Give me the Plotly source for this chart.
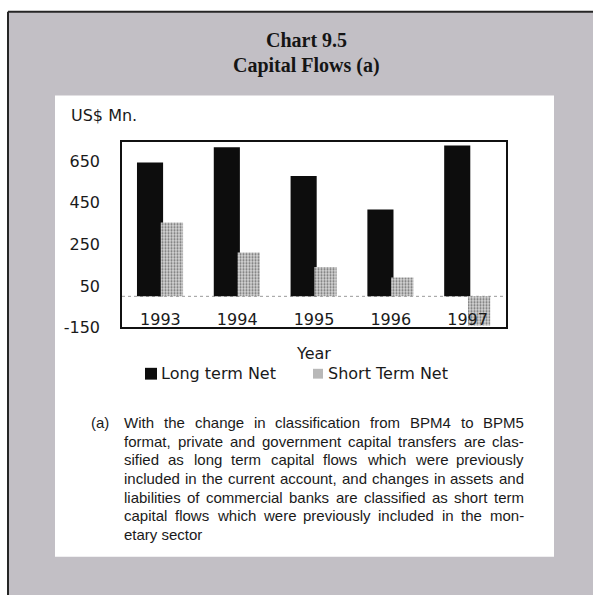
import plotly.graph_objects as go

# ---- data -------------------------------------------------------------
years = ["1993", "1994", "1995", "1996", "1997"]
long_term_net = [645, 718, 580, 418, 726]
short_term_net = [356, 211, 141, 91, -140]
y_ticks = [-150, 50, 250, 450, 650]
y_tick_labels = ["-150", "50", "250", "450", "650"]

title_lines = ["Chart 9.5", "Capital Flows (a)"]
unit_label = "US$ Mn."
x_title = "Year"
legend_labels = ["Long term Net", "Short Term Net"]
note_marker = "(a)"
note_lines = [
    "With the change in classification from BPM4 to BPM5",
    "format, private and government capital transfers are clas-",
    "sified as long term capital flows which were previously",
    "included in the current account, and changes in assets and",
    "liabilities of commercial banks are classified as short term",
    "capital flows which were previously included in the mon-",
    "etary sector",
]

# ---- page geometry (pixels) -------------------------------------------
W, H = 593, 605


def px(x):
    return x / W


def py(y):
    return 1 - y / H


PLOT_L, PLOT_R, PLOT_T, PLOT_B = 122, 506, 144, 333

SANS = "DejaVu Sans"
NOTE_FONT = "Liberation Sans, Arial, sans-serif"
SERIF = "Liberation Serif, Times New Roman, serif"

fig = go.Figure()

fig.add_trace(go.Bar(
    x=years, y=long_term_net, name=legend_labels[0],
    marker=dict(color="#0d0d0d", line=dict(width=0)),
    offset=-0.305, width=0.34, showlegend=False,
))
fig.add_trace(go.Bar(
    x=years, y=short_term_net, name=legend_labels[1],
    marker=dict(
        color="#b4b4b4", line=dict(width=0),
        pattern=dict(shape=".", fgcolor="#707070", bgcolor="#d6d6d6",
                     size=3, solidity=0.4, fillmode="replace"),
    ),
    offset=0.005, width=0.29, showlegend=False,
))

shapes = [
    # textured grey frame and its dark top/left edge
    dict(type="rect", xref="paper", yref="paper", x0=px(8), x1=1, y0=0, y1=py(12),
         fillcolor="#c2bfc5", line=dict(width=0), layer="below"),
    dict(type="line", xref="paper", yref="paper", x0=px(8), x1=1, y0=py(12), y1=py(12),
         line=dict(color="#262626", width=2)),
    dict(type="line", xref="paper", yref="paper", x0=px(8), x1=px(8), y0=0, y1=py(12),
         line=dict(color="#262626", width=2)),
    # white inner panel
    dict(type="rect", xref="paper", yref="paper", x0=px(55), x1=px(554), y0=py(566), y1=py(97),
         fillcolor="white", line=dict(width=0), layer="below"),
    # dotted baseline at zero
    dict(type="line", xref="x domain", yref="y", x0=0, x1=1, y0=0, y1=0,
         line=dict(color="#9a9a9a", width=1, dash="dot"), layer="below"),
    # legend swatches
    dict(type="rect", xref="paper", yref="paper", x0=px(145), x1=px(157), y0=py(386), y1=py(374),
         fillcolor="#0d0d0d", line=dict(width=0)),
    dict(type="rect", xref="paper", yref="paper", x0=px(313), x1=px(323), y0=py(385), y1=py(375),
         fillcolor="#b8b8b8", line=dict(width=0)),
]

annotations = [
    dict(text=f"<b>{title_lines[0]}</b>", x=px(306), y=py(41), xref="paper", yref="paper",
         showarrow=False, xanchor="center", yanchor="middle",
         font=dict(family=SERIF, size=20, color="#151515")),
    dict(text=f"<b>{title_lines[1]}</b>", x=px(306), y=py(67), xref="paper", yref="paper",
         showarrow=False, xanchor="center", yanchor="middle",
         font=dict(family=SERIF, size=20, color="#151515")),
    dict(text=unit_label, x=px(69), y=py(117), xref="paper", yref="paper",
         showarrow=False, xanchor="left", yanchor="middle",
         font=dict(family=SANS, size=16, color="#1a1a1a")),
    dict(text=legend_labels[0], x=px(159), y=py(380), xref="paper", yref="paper",
         showarrow=False, xanchor="left", yanchor="middle",
         font=dict(family=SANS, size=16, color="#1a1a1a")),
    dict(text=legend_labels[1], x=px(326), y=py(380), xref="paper", yref="paper",
         showarrow=False, xanchor="left", yanchor="middle",
         font=dict(family=SANS, size=16, color="#1a1a1a")),
    dict(text=note_marker, x=px(89), y=py(430), xref="paper", yref="paper",
         showarrow=False, xanchor="left", yanchor="middle",
         font=dict(family=NOTE_FONT, size=15, color="#1a1a1a")),
]

# Arial / Liberation Sans advance widths (units per 1000 em) for justified note text
ADV = {
    " ": 278, ",": 278, ".": 278, "-": 333, "(": 333, ")": 333,
    "a": 556, "b": 556, "c": 500, "d": 556, "e": 556, "f": 278, "g": 556, "h": 556,
    "i": 222, "j": 222, "k": 500, "l": 222, "m": 833, "n": 556, "o": 556, "p": 556,
    "q": 556, "r": 333, "s": 500, "t": 278, "u": 556, "v": 500, "w": 722, "x": 500,
    "y": 500, "z": 500, "B": 667, "M": 833, "P": 667, "W": 944, "4": 556, "5": 556,
}
NOTE_SIZE = 15
NOTE_L, NOTE_R = 122, 522
NOTE_TOP, NOTE_STEP = 430, 18.85


def word_width(word):
    return sum(ADV.get(ch, 556) for ch in word) * NOTE_SIZE / 1000


for i, line in enumerate(note_lines):
    yy = py(NOTE_TOP + i * NOTE_STEP)
    words = line.split()
    if i == len(note_lines) - 1 or len(words) < 2:
        annotations.append(dict(
            text=line, x=px(NOTE_L), y=yy, xref="paper", yref="paper",
            showarrow=False, xanchor="left", yanchor="middle",
            font=dict(family=NOTE_FONT, size=NOTE_SIZE, color="#1a1a1a")))
        continue
    widths = [word_width(w) for w in words]
    gap = (NOTE_R - NOTE_L - sum(widths)) / (len(words) - 1)
    xpos = NOTE_L
    for w, ww in zip(words, widths):
        annotations.append(dict(
            text=w, x=px(xpos), y=yy, xref="paper", yref="paper",
            showarrow=False, xanchor="left", yanchor="middle",
            font=dict(family=NOTE_FONT, size=NOTE_SIZE, color="#1a1a1a")))
        xpos += ww + gap

fig.update_layout(
    width=W, height=H, autosize=False,
    margin=dict(l=0, r=0, t=0, b=0, pad=0),
    paper_bgcolor="white", plot_bgcolor="white",
    barmode="overlay",
    showlegend=False,
    shapes=shapes,
    annotations=annotations,
    xaxis=dict(
        domain=[px(PLOT_L), px(PLOT_R)],
        type="category",
        showline=True, mirror=True, linecolor="#111111", linewidth=1.5,
        showgrid=False, zeroline=False, ticks="",
        ticklabelstandoff=-23,
        tickfont=dict(family=SANS, size=16, color="#1a1a1a"),
        title=dict(text=x_title, standoff=19,
                   font=dict(family=SANS, size=16, color="#1a1a1a")),
    ),
    yaxis=dict(
        domain=[py(PLOT_B), py(PLOT_T)],
        range=[-150, 745],
        tickvals=y_ticks,
        ticktext=y_tick_labels,
        showline=True, mirror=True, linecolor="#111111", linewidth=1.5,
        showgrid=False, zeroline=False, ticks="",
        ticklabelstandoff=17,
        tickfont=dict(family=SANS, size=16, color="#1a1a1a"),
    ),
)

fig.write_html("out.html")
